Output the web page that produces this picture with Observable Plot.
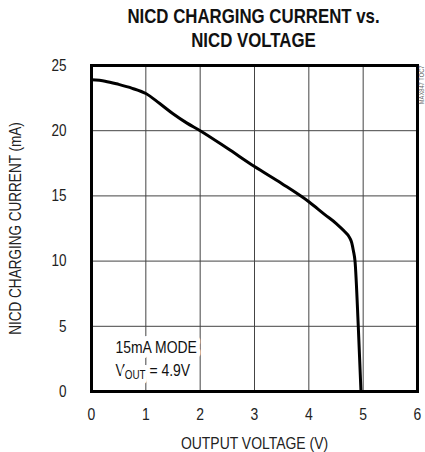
<!DOCTYPE html>
<html>
<head>
<meta charset="utf-8">
<script src="https://cdn.jsdelivr.net/npm/d3@7"></script>
<script src="https://cdn.jsdelivr.net/npm/@observablehq/plot@0.6"></script>
<style>
  body { margin: 0; background: #fff; }
  #title {
    width: 343px; padding-left: 82px; padding-top: 4px; height: 48px;
    text-align: center; font-family: "Liberation Sans", Arial, sans-serif;
    font-weight: bold; font-size: 20.5px; line-height: 24px; color: #111;
  }
  #title span { display: block; transform: scaleX(0.82); transform-origin: 171.5px 0; white-space: nowrap; }
  #chart svg { display: block; }
</style>
</head>
<body>
<div id="title"><span>NICD CHARGING CURRENT vs.</span><span>NICD VOLTAGE</span></div>
<div id="chart"></div>
<script>
const voltage = [0, 0.25, 0.5, 0.75, 1, 1.25, 1.5, 1.75, 2, 2.5, 3, 3.5, 4, 4.3, 4.5, 4.65, 4.75, 4.79, 4.82, 4.85, 4.91, 4.96];
const current = [23.9, 23.8, 23.55, 23.25, 22.85, 22.1, 21.3, 20.6, 20.0, 18.65, 17.25, 15.95, 14.55, 13.55, 12.9, 12.3, 11.8, 11.4, 10.8, 10.0, 5.0, 0];
const xTicks = [0, 1, 2, 3, 4, 5, 6];
const yTicks = [0, 5, 10, 15, 20, 25];
const xLabel = "OUTPUT VOLTAGE (V)";
const yLabel = "NICD CHARGING CURRENT (mA)";
const annotationLines = ["15mA MODE", "VOUT = 4.9V"];
const figureId = "MAX847 TOC7";

const points = voltage.map((v, i) => ({v, c: current[i]}));
const font = '"Liberation Sans", Arial, sans-serif';
const narrow = 0.82;

const chart = Plot.plot({
  width: 425,
  height: 400,
  marginTop: 13,
  marginBottom: 61,
  marginLeft: 91,
  marginRight: 8,
  style: {fontFamily: font, fontSize: "17px", color: "#222", background: "white"},
  x: {domain: [0, 6]},
  y: {domain: [0, 25]},
  marks: [
    Plot.ruleX(xTicks, {stroke: "#444", strokeWidth: 1}),
    Plot.ruleY(yTicks, {stroke: "#444", strokeWidth: 1}),
    Plot.axisX({ticks: xTicks, tickFormat: "d", tickSize: 0, tickPadding: 16, label: xLabel, labelAnchor: "center", labelArrow: "none", labelOffset: 57, fontSize: 17}),
    Plot.axisY({ticks: yTicks, tickFormat: "d", tickSize: 0, tickPadding: 25, label: yLabel, labelAnchor: "center", labelArrow: "none", labelOffset: 82, fontSize: 16.5}),
    Plot.text([annotationLines.join("\n")], {
      text: d => d, frameAnchor: "bottom-left", dx: 24, dy: -16,
      textAnchor: "start", lineAnchor: "bottom", lineHeight: 1.3,
      fontSize: 17, fill: "#111", stroke: "white", strokeWidth: 10, paintOrder: "stroke"
    }),
    Plot.line(points, {x: "v", y: "c", curve: "monotone-x", stroke: "black", strokeWidth: 3}),
    Plot.frame({stroke: "black", strokeWidth: 3}),
    Plot.text([figureId], {
      text: d => d, frameAnchor: "top-right", rotate: -90, textAnchor: "end",
      dx: 2, fontSize: 7, fill: "#666"
    })
  ]
});

document.getElementById("chart").appendChild(chart);

// condense glyphs horizontally (Arial Narrow look)
function condense(el) {
  const len = el.getComputedTextLength();
  if (len > 0) {
    el.setAttribute("textLength", (len * narrow).toFixed(2));
    el.setAttribute("lengthAdjust", "spacingAndGlyphs");
  }
}
chart.querySelectorAll("text, tspan").forEach(el => {
  if (el.childElementCount === 0 && el.textContent.trim() !== "" && el.textContent !== annotationLines[1]) condense(el);
});

// subscript for V_OUT
chart.querySelectorAll("tspan, text").forEach(el => {
  if (el.childElementCount === 0 && el.textContent === annotationLines[1]) {
    el.textContent = "";
    const parts = [["V", null, null], ["OUT", "12", "3"], [" = 4.9V", null, "-3"]];
    for (const [t, fs, dy] of parts) {
      const s = document.createElementNS("http://www.w3.org/2000/svg", "tspan");
      s.textContent = t;
      if (fs) s.setAttribute("font-size", fs);
      if (dy) s.setAttribute("dy", dy);
      el.appendChild(s);
    }
    el.querySelectorAll("tspan").forEach(condense);
  }
});
</script>
</body>
</html>
